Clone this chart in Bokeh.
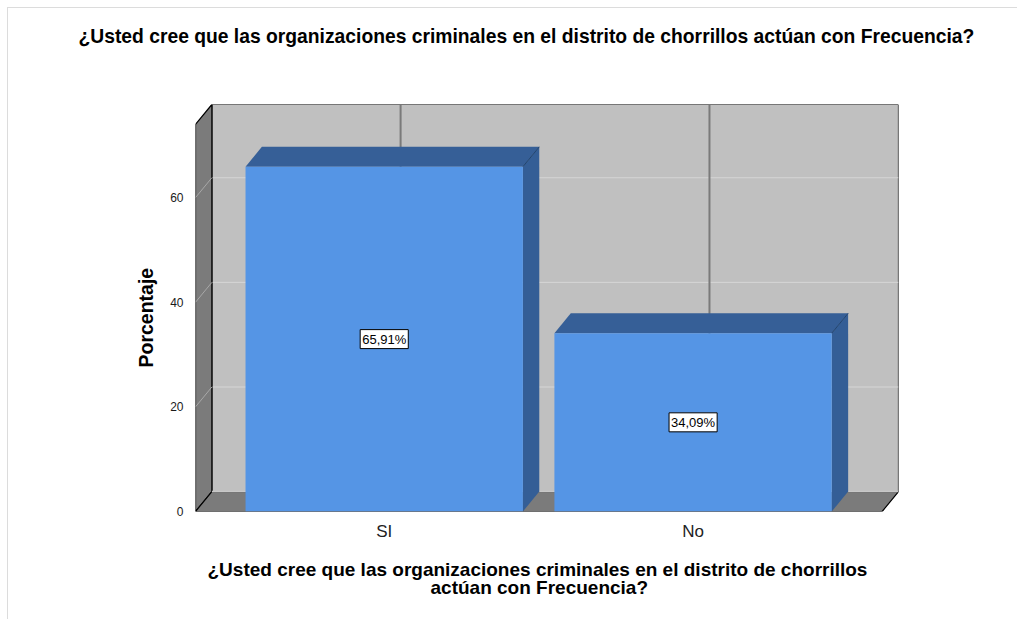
from bokeh.plotting import figure
from bokeh.models import Range1d, FixedTicker, Label, Title
from bokeh.embed import file_html
from bokeh.resources import INLINE

# ---- data ----
categories = ["SI", "No"]
values = [65.91, 34.09]
value_labels = ["65,91%", "34,09%"]
y_ticks = [0, 20, 40, 60]
title_text = "¿Usted cree que las organizaciones criminales en el distrito de chorrillos actúan con Frecuencia?"
xlabel_lines = ["¿Usted cree que las organizaciones criminales en el distrito de chorrillos",
                "actúan con Frecuencia?"]
ylabel_text = "Porcentaje"

# ---- geometry (data units) ----
X0, X1 = 0.389, 2.612      # front plane x extent
YTOP = 74.0                # front top of side wall
DX, DY = 0.053, 3.8        # 3D depth offset
HW = 0.449                 # bar half width
FONT = "Liberation Sans"

p = figure(width=1010, height=612, output_backend="svg", toolbar_location=None,
           x_range=Range1d(X0, X1 + DX), y_range=Range1d(0, YTOP + DY),
           min_border_left=187, min_border_right=120, min_border_top=96, min_border_bottom=109)
p.styles = {"margin-left": "7px", "margin-top": "7px",
            "border-left": "1px solid #dcdcdc", "border-top": "1px solid #dcdcdc"}
p.outline_line_color = None
p.xgrid.visible = False
p.ygrid.visible = False
p.background_fill_color = "white"

# axes
p.yaxis.ticker = FixedTicker(ticks=y_ticks)
p.yaxis.axis_line_color = None
p.yaxis.major_tick_line_color = None
p.yaxis.minor_tick_line_color = None
p.yaxis.major_label_standoff = 6
p.yaxis.major_label_text_font = FONT
p.yaxis.major_label_text_font_size = "12px"
p.yaxis.major_label_text_color = "#1a1a1a"

xpos = [i + 1 for i in range(len(categories))]
p.xaxis.ticker = FixedTicker(ticks=xpos)
p.xaxis.major_label_overrides = {i + 1: c for i, c in enumerate(categories)}
p.xaxis.axis_line_color = None
p.xaxis.major_tick_line_color = None
p.xaxis.minor_tick_line_color = None
p.xaxis.major_label_standoff = 4
p.xaxis.major_label_text_font = FONT
p.xaxis.major_label_text_font_size = "17px"
p.xaxis.major_label_text_color = "#222222"

# titles (spacer first = closest to frame)
p.add_layout(Title(text=" ", text_font_size="1px", standoff=55), "above")
p.add_layout(Title(text=title_text, align="left", offset=-117, standoff=0,
                   text_font=FONT, text_font_size="19.3px", text_font_style="bold",
                   text_color="black"), "above")
# x label: spacer then two centred lines
p.add_layout(Title(text=" ", text_font_size="1px", standoff=10), "below")
p.add_layout(Title(text=xlabel_lines[0], align="left", offset=12, standoff=0,
                   text_font=FONT, text_font_size="19px", text_font_style="bold",
                   text_color="black"), "below")
p.add_layout(Title(text=xlabel_lines[1], align="left", offset=235, standoff=-5,
                   vertical_align="top",
                   text_font=FONT, text_font_size="19px", text_font_style="bold",
                   text_color="black"), "below")
# y label
p.add_layout(Title(text=ylabel_text, align="left", offset=144, standoff=22,
                   text_font=FONT, text_font_size="19.5px", text_font_style="bold",
                   text_color="black"), "left")

# back wall
p.patch([X0 + DX, X1 + DX, X1 + DX, X0 + DX], [DY, DY, YTOP + DY, YTOP + DY],
        fill_color="#c0c0c0", line_color="black", line_width=1.2)
for tk in y_ticks[1:]:
    p.line([X0 + DX, X1 + DX], [tk + DY, tk + DY], line_color="#d6d6d6", line_width=1)
for xc in xpos:
    p.line([xc + DX, xc + DX], [DY, YTOP + DY], line_color="#7a7a7a", line_width=2)

# side wall (left)
p.patch([X0, X0, X0 + DX, X0 + DX], [0, YTOP, YTOP + DY, DY],
        fill_color="#7b7b7b", line_color="black", line_width=1.2)
for tk in y_ticks[1:]:
    p.line([X0, X0 + DX], [tk, tk + DY], line_color="#a8a8a8", line_width=1)

# floor
p.patch([X0, X1, X1 + DX, X0 + DX], [0, 0, DY, DY],
        fill_color="#7b7b7b", line_color="black", line_width=1.2)
p.line([X0 + DX, X1 + DX], [DY, DY], line_color="#c8c8c8", line_width=1.5)

# bars
for xc, v in zip(xpos, values):
    p.patch([xc + HW, xc + HW, xc + HW + DX, xc + HW + DX], [0, v, v + DY, DY],
            fill_color="#345e96", line_color=None)
    p.patch([xc - HW, xc + HW, xc + HW + DX, xc - HW + DX], [v, v, v + DY, v + DY],
            fill_color="#365f97", line_color=None)
    p.line([xc + HW, xc + HW + DX], [v, v + DY], line_color="#22446e", line_width=1)
    p.quad(left=xc - HW, right=xc + HW, bottom=0, top=v,
           fill_color="#5595e5", line_color=None)

# value labels
for xc, v, lab in zip(xpos, values, value_labels):
    p.add_layout(Label(x=xc, y=v / 2, text=lab, text_align="center", text_baseline="middle",
                       text_font=FONT, text_font_size="13px", text_color="black",
                       background_fill_color="white", border_line_color="black",
                       border_line_width=1, padding=2))

open("out.html", "w").write(file_html(p, INLINE))
